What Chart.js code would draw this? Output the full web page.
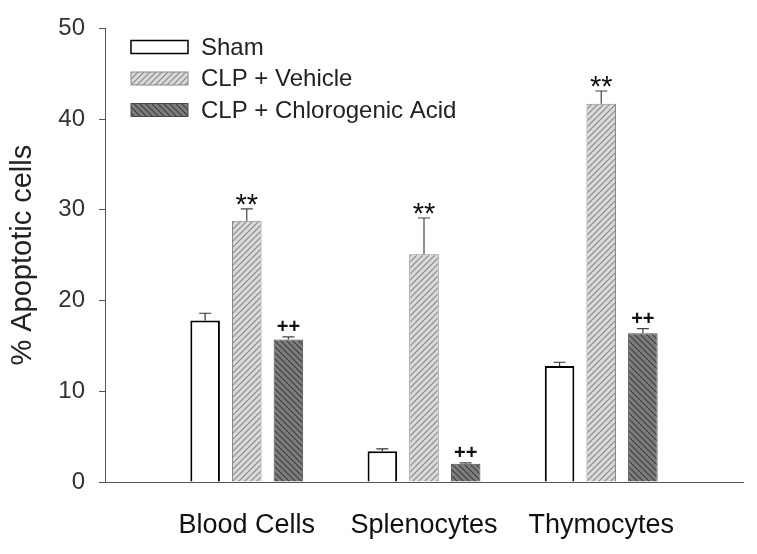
<!DOCTYPE html>
<html>
<head>
<meta charset="utf-8">
<script src="https://cdn.jsdelivr.net/npm/chart.js@4.4.1/dist/chart.umd.min.js"></script>
<style>
    html, body { margin: 0; padding: 0; background: #fff; }
    #wrap { width: 757px; height: 554px; }
</style>
</head>
<body>
<div id="wrap"><canvas id="chart"></canvas></div>
<script>
const categories = ['Blood Cells', 'Splenocytes', 'Thymocytes'];
const seriesNames = ['Sham', 'CLP + Vehicle', 'CLP + Chlorogenic Acid'];
const shamValues = [17.8, 3.4, 12.8];
const shamErrors = [0.8, 0.25, 0.4];
const vehicleValues = [28.8, 25.1, 41.7];
const vehicleErrors = [1.3, 4.0, 1.4];
const acidValues = [15.7, 2.0, 16.4];
const acidErrors = [0.3, 0.1, 0.5];
const vehicleMarks = ['**', '**', '**'];
const acidMarks = ['++', '++', '++'];
const yTicks = [0, 10, 20, 30, 40, 50];

const FONT = '"Liberation Sans", Arial, sans-serif';
const canvas = document.getElementById('chart');
const ctx0 = canvas.getContext('2d');

// rayas diagonales para las barras
function hatch(bg, line, dir) {
    const c = document.createElement('canvas');
    c.width = 6; c.height = 6;
    const g = c.getContext('2d');
    g.fillStyle = bg;
    g.fillRect(0, 0, 6, 6);
    g.strokeStyle = line;
    g.lineWidth = 1.2;
    g.beginPath();
    if (dir > 0) {
        g.moveTo(0, 6); g.lineTo(6, 0);
        g.moveTo(-1, 1); g.lineTo(1, -1);
        g.moveTo(5, 7); g.lineTo(7, 5);
    } else {
        g.moveTo(0, 0); g.lineTo(6, 6);
        g.moveTo(-1, 5); g.lineTo(1, 7);
        g.moveTo(5, -1); g.lineTo(7, 1);
    }
    g.stroke();
    return ctx0.createPattern(c, 'repeat');
}

const toPoints = values => values.map((v, i) => ({ x: i + 1, y: v }));

const errorBarPlugin = {
    id: 'errorBars',
    afterDatasetsDraw(chart) {
        const ctx = chart.ctx;
        const yScale = chart.scales.y;
        chart.data.datasets.forEach((ds, di) => {
            const meta = chart.getDatasetMeta(di);
            meta.data.forEach((bar, i) => {
                const top = yScale.getPixelForValue(ds.data[i].y + ds.errors[i]);
                ctx.save();
                ctx.strokeStyle = ds.errorColor;
                ctx.lineWidth = 1.2;
                ctx.beginPath();
                ctx.moveTo(bar.x, bar.y);
                ctx.lineTo(bar.x, top);
                ctx.moveTo(bar.x - 6, top);
                ctx.lineTo(bar.x + 6, top);
                ctx.stroke();
                if (ds.marks) {
                    const m = ds.marks[i];
                    ctx.fillStyle = '#111';
                    ctx.textAlign = 'center';
                    ctx.textBaseline = 'alphabetic';
                    if (m === '**') {
                        ctx.font = '29px ' + FONT;
                        ctx.fillText(m, bar.x, top + 5);
                    } else {
                        ctx.font = 'bold 20px ' + FONT;
                        ctx.fillText(m, bar.x, top - 4);
                    }
                }
                ctx.restore();
            });
        });
    }
};

const legendPlugin = {
    id: 'boxLegend',
    afterDraw(chart) {
        const ctx = chart.ctx;
        chart.data.datasets.forEach((ds, i) => {
            const cy = 47 + i * 31.5;
            ctx.save();
            ctx.fillStyle = ds.backgroundColor;
            ctx.fillRect(131, cy - 6.5, 57, 13);
            ctx.strokeStyle = ds.borderColor;
            ctx.lineWidth = i === 0 ? 1.5 : 1;
            ctx.strokeRect(131, cy - 6.5, 57, 13);
            ctx.fillStyle = '#222';
            ctx.font = '24px ' + FONT;
            ctx.textAlign = 'left';
            ctx.textBaseline = 'middle';
            ctx.fillText(ds.label, 201, cy + 1);
            ctx.restore();
        });
    }
};

new Chart(canvas, {
    type: 'bar',
    data: {
        datasets: [
            {
                label: seriesNames[0],
                data: toPoints(shamValues),
                errors: shamErrors,
                backgroundColor: '#ffffff',
                borderColor: '#000000',
                borderWidth: 2,
                errorColor: '#333'
            },
            {
                label: seriesNames[1],
                data: toPoints(vehicleValues),
                errors: vehicleErrors,
                marks: vehicleMarks,
                backgroundColor: hatch('#dadada', '#8a8a8a', 1),
                borderColor: '#8a8a8a',
                borderWidth: 1,
                errorColor: '#444'
            },
            {
                label: seriesNames[2],
                data: toPoints(acidValues),
                errors: acidErrors,
                marks: acidMarks,
                backgroundColor: hatch('#7e7e7e', '#3e3e3e', -1),
                borderColor: '#4a4a4a',
                borderWidth: 1,
                errorColor: '#444'
            }
        ]
    },
    options: {
        responsive: true,
        maintainAspectRatio: false,
        animation: false,
        categoryPercentage: 0.705,
        barPercentage: 0.71,
        layout: { padding: { top: 24, right: 14, left: 0, bottom: 0 } },
        plugins: {
            legend: { display: false },
            tooltip: { enabled: false }
        },
        scales: {
            x: {
                type: 'linear',
                offset: false,
                min: 0.2,
                max: 3.8,
                grid: { display: false, drawTicks: false, offset: false },
                border: { color: '#555', width: 1 },
                ticks: {
                    stepSize: 1,
                    includeBounds: false,
                    maxRotation: 0,
                    autoSkip: false,
                    padding: 27,
                    color: '#111',
                    font: { family: FONT, size: 27 },
                    callback: v => categories[v - 1] || ''
                },
                afterFit: s => { s.height = 72; }
            },
            y: {
                min: 0,
                max: 50,
                afterBuildTicks: s => { s.ticks = yTicks.map(v => ({ value: v })); },
                grid: { drawOnChartArea: false, drawTicks: true, tickLength: 6, color: '#555' },
                border: { color: '#555', width: 1 },
                ticks: {
                    padding: 14,
                    color: '#333',
                    font: { family: FONT, size: 24 }
                },
                title: {
                    display: true,
                    text: '% Apoptotic cells',
                    color: '#222',
                    font: { family: FONT, size: 29 },
                    padding: { top: 6, bottom: 0 }
                },
                afterFit: s => { s.width = 105; }
            }
        }
    },
    plugins: [errorBarPlugin, legendPlugin]
});
</script>
</body>
</html>
